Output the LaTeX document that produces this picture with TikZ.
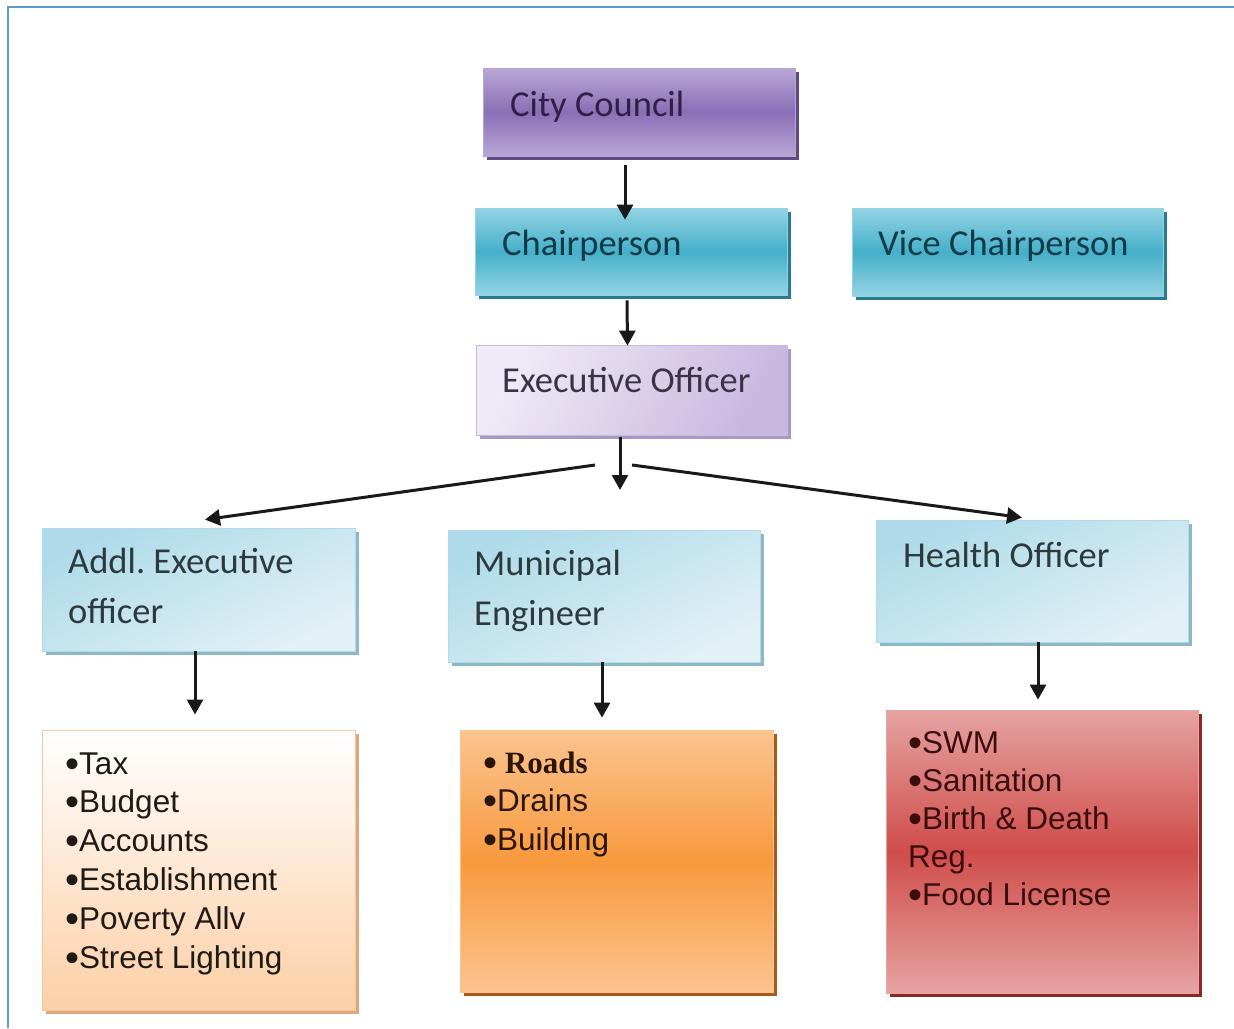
\documentclass[tikz,border=0pt]{standalone}
\usepackage{fontspec}
\newfontfamily\boxfont{Carlito}
\newfontfamily\listfont{Liberation Sans}
\newfontfamily\serfont{Liberation Serif}
\usetikzlibrary{arrows.meta,shadows}
\definecolor{frameblue}{HTML}{5B9BD5}
\definecolor{ccTop}{HTML}{B8A7D6}
\definecolor{ccMid}{HTML}{8A6FB6}
\definecolor{ccShadow}{HTML}{5E4A85}
\definecolor{ccText}{HTML}{2E2046}
\definecolor{chTop}{HTML}{93D3E3}
\definecolor{chMid}{HTML}{45AFCA}
\definecolor{chShadow}{HTML}{2A7A8E}
\definecolor{chText}{HTML}{0F3A47}
\definecolor{eoLeft}{HTML}{F0EAF6}
\definecolor{eoRight}{HTML}{C8B8E0}
\definecolor{eoShadow}{HTML}{A898C4}
\definecolor{eoText}{HTML}{3A3348}
\definecolor{lbTop}{HTML}{AEDAE9}
\definecolor{lbBottom}{HTML}{E2F1F6}
\definecolor{lbShadow}{HTML}{8FB8C6}
\definecolor{lbText}{HTML}{2C3A40}
\definecolor{txTop}{HTML}{FFFFFF}
\definecolor{txBottom}{HTML}{FCCFA6}
\definecolor{txShadow}{HTML}{D9A87E}
\definecolor{txBorder}{HTML}{F2C9A2}
\definecolor{rdTop}{HTML}{FBC48F}
\definecolor{rdMid}{HTML}{F7993D}
\definecolor{rdShadow}{HTML}{A85A1A}
\definecolor{swTop}{HTML}{E5A3A1}
\definecolor{swMid}{HTML}{CF4D4B}
\definecolor{swShadow}{HTML}{8A2828}
\definecolor{listText}{HTML}{1E1A16}
\definecolor{rdText}{HTML}{2B1508}
\definecolor{swText}{HTML}{3B0D0D}
\newcommand\lbul{\raisebox{-3pt}{\fontsize{40}{0}\selectfont•}}
\begin{document}
\frenchspacing
\begin{tikzpicture}[x=1pt,y=-1pt,
  basebox/.style={rectangle, inner sep=0pt},
  shad/.style={drop shadow={shadow xshift=4pt,shadow yshift=-4pt,fill=#1,opacity=1}},
  ccbox/.style={basebox, top color=ccTop, bottom color=ccTop, middle color=ccMid, draw=ccTop, line width=0.8pt, shad=ccShadow},
  chbox/.style={basebox, top color=chTop, bottom color=chTop, middle color=chMid, draw=chTop, line width=0.8pt, shad=chShadow},
  eobox/.style={basebox, left color=eoLeft, right color=eoRight, shading angle=60, draw=eoRight, line width=0.8pt, shad=eoShadow},
  lbbox/.style={basebox, top color=lbTop, bottom color=lbBottom, shading angle=25, draw=lbTop, line width=0.8pt, shad=lbShadow},
  txbox/.style={basebox, top color=txTop, bottom color=txBottom, draw=txBorder, line width=1pt, shad=txShadow},
  rdbox/.style={basebox, top color=rdTop, bottom color=rdTop, middle color=rdMid, draw=rdTop, line width=0.8pt, shad=rdShadow},
  swbox/.style={basebox, top color=swTop, bottom color=swTop, middle color=swMid, draw=swTop, line width=0.8pt, shad=swShadow},
  title/.style={inner sep=0pt, anchor=base west, text width=290pt, align=flush left, font=\boxfont\fontsize{36.5}{50}\selectfont},
  listtext/.style={inner sep=0pt, anchor=base west, text width=295pt, align=flush left, font=\listfont\fontsize{31.5}{38.8}\selectfont},
  arr/.style={-{Triangle[width=16pt,length=15pt]}, line width=3pt, draw=black!90}
]
\useasboundingbox (0,0) rectangle (1234,1028);
\draw[frameblue, line width=2.5pt] (8,1028) -- (8,7) -- (1234,7);

% boxes
\node[ccbox, minimum width=312pt, minimum height=88pt] (cc) at (639,112) {};
\node[chbox, minimum width=312pt, minimum height=87pt] (ch) at (631,251.5) {};
\node[chbox, minimum width=311pt, minimum height=88pt] (vc) at (1007.5,252) {};
\node[eobox, minimum width=311pt, minimum height=90pt] (eo) at (631.5,390) {};
\node[lbbox, minimum width=313pt, minimum height=123pt] (ad) at (198.5,589.5) {};
\node[lbbox, minimum width=312pt, minimum height=132pt] (me) at (604,596) {};
\node[lbbox, minimum width=312pt, minimum height=122pt] (ho) at (1032,581) {};
\node[txbox, minimum width=313pt, minimum height=280pt] (tx) at (198.5,870) {};
\node[rdbox, minimum width=313pt, minimum height=262pt] (rd) at (616.5,861) {};
\node[swbox, minimum width=312pt, minimum height=283pt] (sw) at (1042,851.5) {};

% texts
\node[title, text=ccText] (cct) at (510,116) {City Council};
\node[title, text=chText] (cht) at (502,255) {Chairperson};
\node[title, text=chText] (vct) at (878,255) {Vice Chairperson};
\node[title, text=eoText] (eot) at (502,392) {Executive Officer};
\node[title, text=lbText] (adt) at (68,573) {Addl. Executive\\officer};
\node[title, text=lbText] (met) at (474,575) {Municipal\\Engineer};
\node[title, text=lbText] (hot) at (903,567) {Health Officer};
\node[listtext, text=listText] (txt) at (65,774) {\lbul Tax\\\lbul Budget\\\lbul Accounts\\\lbul Establishment\\\lbul Poverty Allv\\\lbul Street Lighting};
\node[listtext, text=rdText] (rdt) at (483,773) {{\serfont\bfseries\fontsize{31}{38.8}\selectfont\lbul{} Roads}\\\lbul Drains\\\lbul Building};
\node[listtext, text=swText, font=\listfont\fontsize{31.5}{38}\selectfont] (swt) at (908,753) {\lbul SWM\\\lbul Sanitation\\\lbul Birth \& Death\\Reg.\\\lbul Food License};

% connectors
\coordinate (split) at (620,490);
\coordinate (sl) at (595,465);
\coordinate (sr) at (632,465);
\draw[arr] ([xshift=-14pt,yshift=-9pt]cc.south) -- ([xshift=-6pt,yshift=-12pt]ch.north);
\draw[arr] ([xshift=-4pt,yshift=-5pt]ch.south) -- ([xshift=-4pt,yshift=-1pt]eo.north);
\draw[arr] ([xshift=-11.5pt,yshift=-2pt]eo.south) -- (split);
\draw[arr] (sl) -- ([xshift=6.5pt,yshift=8pt]ad.north);
\draw[arr] (sr) -- ([xshift=-10pt,yshift=2pt]ho.north);
\draw[arr] ([xshift=-3.5pt]ad.south) -- ([xshift=-3.5pt,yshift=15pt]tx.north);
\draw[arr] ([xshift=-2pt]me.south) -- ([xshift=-14.5pt,yshift=12pt]rd.north);
\draw[arr] ([xshift=6pt]ho.south) -- ([xshift=-4pt,yshift=10pt]sw.north);
\end{tikzpicture}
\end{document}
